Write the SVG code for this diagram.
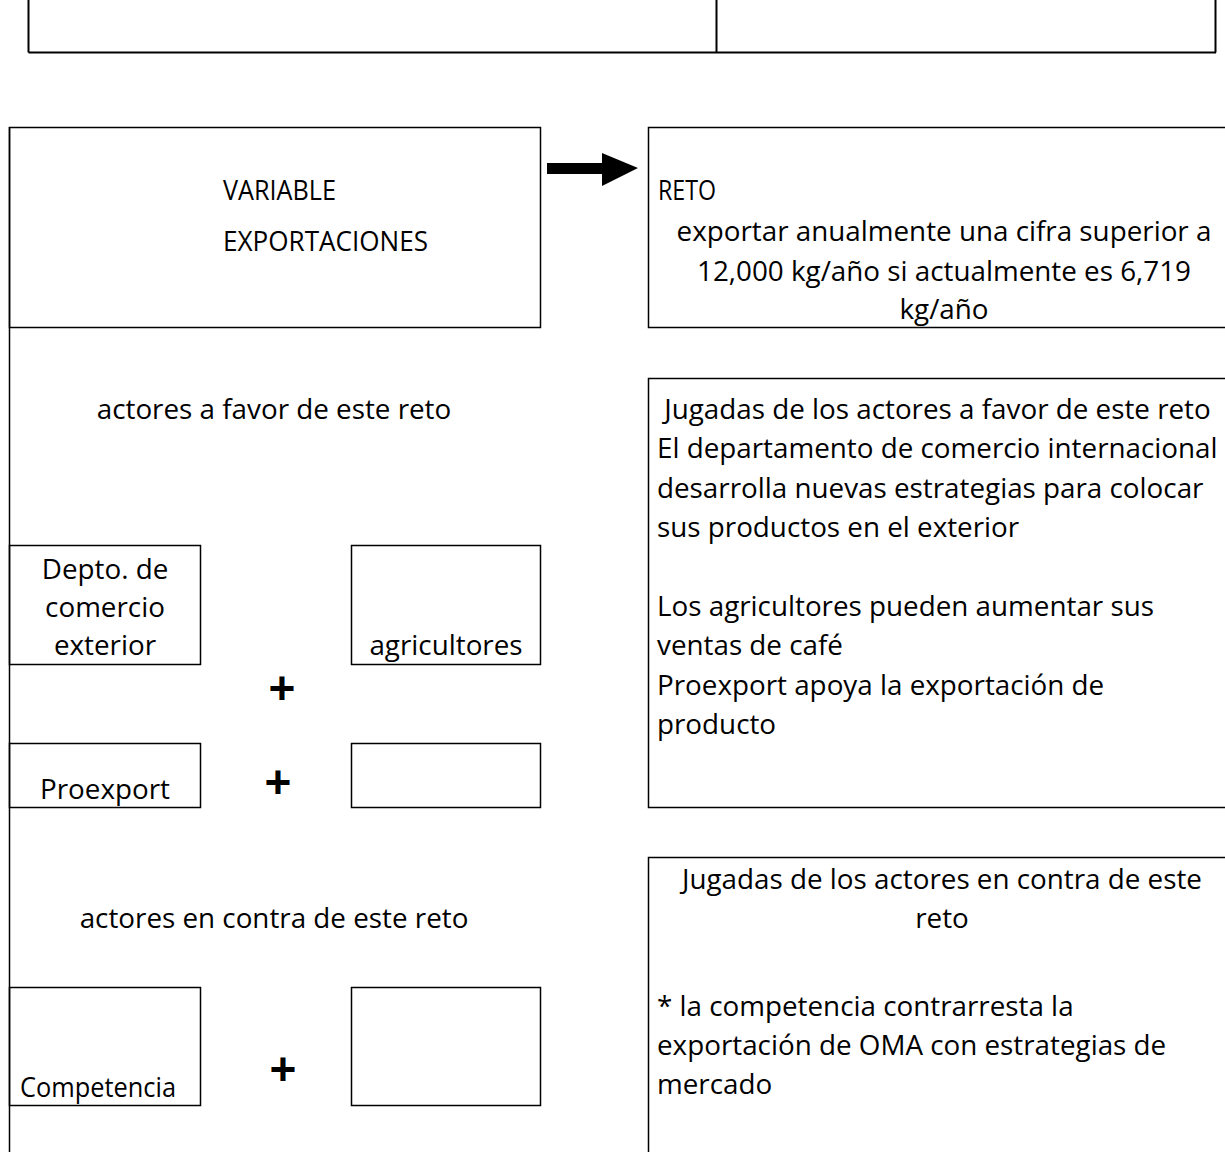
<svg xmlns="http://www.w3.org/2000/svg" width="1225" height="1152" viewBox="0 0 1225 1152">
<style>
.ln{fill:none;stroke:#000;stroke-width:1.5}
.t{font-family:"Open Sans","Liberation Sans",sans-serif;font-size:27.8px;fill:#000}
.c{text-anchor:middle}
.plus{font-family:"Liberation Sans",Arial,sans-serif;font-size:46px;font-weight:bold;fill:#000;text-anchor:middle}
</style>
<rect width="1225" height="1152" fill="#fff"/>
<g id="top-table">
<path class="ln" d="M28.5,0V52.5M716.5,0V52.5M1215.5,0V52.5M28.5,52.5H1216" style="stroke-width:2"/>
</g>
<g id="left-column">
<path class="ln" d="M9.5,127V1152"/>
</g>
<g id="variable">
<rect class="ln" x="9.5" y="127.5" width="531" height="200"/>
<text class="t" x="223" y="200" textLength="113" lengthAdjust="spacingAndGlyphs">VARIABLE</text>
<text class="t" x="223" y="251" textLength="205" lengthAdjust="spacingAndGlyphs">EXPORTACIONES</text>
</g>
<g id="reto">
<path class="ln" d="M1225,127.5H648.5V327.5H1225"/>
<text class="t" x="658" y="200" textLength="58" lengthAdjust="spacingAndGlyphs">RETO</text>
<text class="t c" x="944" y="241">exportar anualmente una cifra superior a</text>
<text class="t c" x="944" y="281">12,000 kg/año si actualmente es 6,719</text>
<text class="t c" x="944" y="319">kg/año</text>
</g>
<g id="actores-favor">
<text class="t c" x="274" y="419">actores a favor de este reto</text>
</g>
<g id="jugadas-favor">
<path class="ln" d="M1225,378.5H648.5V807.5H1225"/>
<text class="t" x="657" y="419" xml:space="preserve"> Jugadas de los actores a favor de este reto</text>
<text class="t" x="657" y="458">El departamento de comercio internacional</text>
<text class="t" x="657" y="498">desarrolla nuevas estrategias para colocar</text>
<text class="t" x="657" y="537">sus productos en el exterior</text>
<text class="t" x="657" y="616">Los agricultores pueden aumentar sus</text>
<text class="t" x="657" y="655">ventas de café</text>
<text class="t" x="657" y="695">Proexport apoya la exportación de</text>
<text class="t" x="657" y="734">producto</text>
</g>
<g id="depto">
<rect class="ln" x="9.5" y="545.5" width="191" height="119"/>
<text class="t c" x="105" y="579">Depto. de</text>
<text class="t c" x="105" y="617">comercio</text>
<text class="t c" x="105" y="655">exterior</text>
</g>
<g id="agricultores">
<rect class="ln" x="351.5" y="545.5" width="189" height="119"/>
<text class="t c" x="446" y="655">agricultores</text>
</g>
<g id="plus1"><text class="plus" x="282" y="704">+</text></g>
<g id="proexport">
<rect class="ln" x="9.5" y="743.5" width="191" height="64"/>
<text class="t c" x="105" y="799">Proexport</text>
</g>
<g id="plus2"><text class="plus" x="278" y="798">+</text></g>
<g id="empty1">
<rect class="ln" x="351.5" y="743.5" width="189" height="64"/>
</g>
<g id="actores-contra">
<text class="t c" x="274" y="928">actores en contra de este reto</text>
</g>
<g id="jugadas-contra">
<path class="ln" d="M1225,857.5H648.5V1152"/>
<text class="t c" x="942" y="889">Jugadas de los actores en contra de este</text>
<text class="t c" x="942" y="928">reto</text>
<text class="t" x="657" y="1016">* la competencia contrarresta la</text>
<text class="t" x="657" y="1055">exportación de OMA con estrategias de</text>
<text class="t" x="657" y="1094">mercado</text>
</g>
<g id="competencia">
<rect class="ln" x="9.5" y="987.5" width="191" height="118"/>
<text class="t" x="20" y="1097" textLength="156" lengthAdjust="spacingAndGlyphs">Competencia</text>
</g>
<g id="plus3"><text class="plus" x="283" y="1085">+</text></g>
<g id="empty2">
<rect class="ln" x="351.5" y="987.5" width="189" height="118"/>
</g>
<g id="connectors">
<polygon points="547,163 602,163 602,153 638,168 602,186 602,174 547,174" fill="#000"/>
</g>
</svg>
